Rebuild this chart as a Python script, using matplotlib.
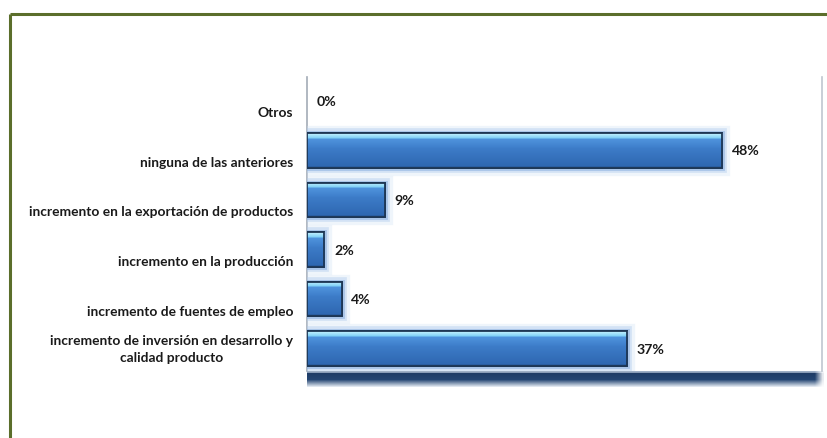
import numpy as np
import matplotlib
matplotlib.use("Agg")
import matplotlib.pyplot as plt
from matplotlib import patheffects as pe
from matplotlib.lines import Line2D
from matplotlib.colors import to_rgb

# ---- data ----
categories = [
    "Otros",
    "ninguna de las anteriores",
    "incremento en la exportación de productos",
    "incremento en la producción",
    "incremento de fuentes de empleo",
    "incremento de inversión en desarrollo y\ncalidad producto",
]
values = [0, 48, 9, 2, 4, 37]
value_labels = ["0%", "48%", "9%", "2%", "4%", "37%"]

plt.rcParams["font.family"] = ["Lato", "DejaVu Sans"]

W, H = 828, 439
fig = plt.figure(figsize=(W / 100, H / 100), dpi=100)
fig.patch.set_facecolor("white")

# olive frame (top and left edges visible)
frame_col = "#5b6e2b"
fig.add_artist(Line2D([10 / W, 1.0], [1 - 15 / H, 1 - 15 / H], color=frame_col, lw=2.2,
                      transform=fig.transFigure, solid_capstyle="butt"))
fig.add_artist(Line2D([10 / W, 10 / W], [0.0, 1 - 15 / H], color=frame_col, lw=2.2,
                      transform=fig.transFigure, solid_capstyle="butt"))

ax_l, ax_r, ax_t, ax_b = 307, 822, 78, 372
ax = fig.add_axes([ax_l / W, 1 - ax_b / H, (ax_r - ax_l) / W, (ax_b - ax_t) / H])
ax.set_facecolor("white")

y = np.arange(len(categories))
bar_h = 0.70


def lerp(c1, c2, n):
    a, b = np.array(to_rgb(c1)), np.array(to_rgb(c2))
    t = np.linspace(0, 1, n)[:, None]
    return a * (1 - t) + b * t


# vertical gradient used inside each bar: bright bevel on top, blue body below
grad = np.vstack([
    lerp("#c4f1ff", "#7fd0f6", 6),
    lerp("#4f93dc", "#3f80cc", 10),
    lerp("#3d7cc8", "#2f68b2", 20),
    lerp("#2a5c9e", "#2a5c9e", 2),
])[:, None, :]

bars = ax.barh(y, values, height=bar_h, color="#3a78c4", edgecolor="#1d3654",
               linewidth=1.3, zorder=3)

for rect, v in zip(bars, values):
    if v <= 0:
        rect.set_visible(False)
        continue
    rect.set_path_effects([
        pe.Stroke(linewidth=11, foreground="#d3e3f5", alpha=0.35),
        pe.Stroke(linewidth=7, foreground="#b2cdee", alpha=0.45),
        pe.Stroke(linewidth=3.5, foreground="#8fb3e0", alpha=0.6),
        pe.Normal(),
    ])
    x0, y0 = rect.get_x(), rect.get_y()
    w, h = rect.get_width(), rect.get_height()
    im = ax.imshow(grad, extent=(x0, x0 + w, y0 + h, y0), origin="upper",
                   aspect="auto", interpolation="bilinear", zorder=4)
    im.set_clip_path(rect)
    # crisp outline on top of the gradient
    ax.barh(rect.get_y() + h / 2, w, height=h, fill=False, edgecolor="#1d3654",
            linewidth=1.3, zorder=5)

# value labels
for yi, v, lab in zip(y, values, value_labels):
    ax.annotate(lab, xy=(v, yi), xytext=(7, 0), textcoords="offset points",
                ha="left", va="center", fontsize=10.2, fontweight="bold",
                color="#1a1a1a", zorder=6)

ax.set_xlim(0, 59.5)
ax.set_ylim(len(categories) - 0.55, -0.48)

# category labels
ax.set_yticks(y)
ax.set_yticklabels([])
ax.tick_params(axis="y", length=0)
ax.set_xticks([])
for yi, lab in zip(y, categories):
    off = 0.0 if "\n" in lab else 0.23
    ax.text(-14 / 8.66, yi + off, lab, ha="right", va="center", multialignment="center",
            fontsize=9.9, fontweight="bold", color="#1a1a1a", linespacing=1.5)

for s in ["top", "bottom"]:
    ax.spines[s].set_visible(False)
ax.spines["left"].set_color("#a3abb6")
ax.spines["left"].set_linewidth(1.2)
ax.spines["right"].set_color("#bfc6cf")
ax.spines["right"].set_linewidth(1.2)

# dark floor band beneath the plot area
floor = fig.add_axes([ax_l / W, 1 - 388 / H, (ax_r + 2 - ax_l) / W, 16 / H])
floor.axis("off")
fg = np.vstack([
    lerp("#9fb0c6", "#8a9db8", 2),
    lerp("#1f3c66", "#244572", 7),
    lerp("#3c5a82", "#dfe6ef", 7),
])
alpha = np.ones((fg.shape[0], 200))
alpha[:, -4:] = np.linspace(1, 0.1, 4)
img = np.dstack([np.repeat(fg[:, None, :], 200, axis=1), alpha])
floor.imshow(img, aspect="auto", interpolation="bilinear", extent=(0, 1, 0, 1))

fig.savefig("out.png", dpi=100, facecolor="white")
